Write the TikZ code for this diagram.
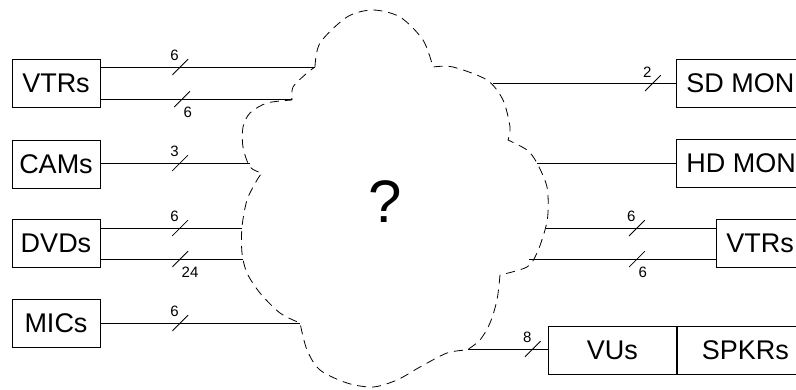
\documentclass[tikz,border=0pt]{standalone}
\usepackage{fontspec}
\setmainfont{Liberation Sans}
\usetikzlibrary{positioning}

\tikzset{
  box/.style={draw, line width=0.9pt, minimum height=48pt, inner sep=0pt, font=\fontsize{27}{30}\selectfont},
  leftbox/.style={box, minimum width=88pt},
  rightbox/.style={box, anchor=west, inner xsep=10pt},
  wire/.style={line width=0.9pt},
  cloudline/.style={line width=0.8pt, dash pattern=on 9pt off 6pt},
  lbl/.style={font=\fontsize{15}{17}\selectfont, inner sep=1pt},
  bus/.style={minimum size=16pt, inner sep=0pt,
    path picture={\draw[line width=0.8pt] (path picture bounding box.south west) -- (path picture bounding box.north east);}},
  busup/.style={bus, label={[lbl, anchor=south east, yshift=-4pt]north:#1}},
  busdown/.style={bus, label={[lbl, anchor=north west, yshift=2pt]south:#1}},
}

\begin{document}
\begin{tikzpicture}[x=1pt, y=-1pt]
  \clip (0,0) rectangle (796,389);

  % sources
  \node[leftbox] (vtrL) at (56,83) {VTRs};
  \node[leftbox] (camL) at (56,164) {CAMs};
  \node[leftbox] (dvdL) at (56,243) {DVDs};
  \node[leftbox] (micL) at (56,323) {MICs};

  % destinations
  \node[rightbox] (sdR) at (676,83) {SD MON};
  \node[rightbox] (hdR) at (676,163) {HD MON};
  \node[rightbox, inner xsep=10pt] (vtrR) at (716,243) {VTRs};
  \node[box, anchor=west, minimum width=128pt] (vuR) at (548,350) {VUs};
  \node[box, anchor=west, minimum width=136pt, right=0pt of vuR] (spkR) {SPKRs};

  % the unknown in the middle
  \node[font=\fontsize{60}{60}\selectfont] (q) at (385,202) {?};
  \draw[cloudline]
    plot[smooth] coordinates {(315,67) (320,43) (347,17) (373,10) (400,17) (423,40) (433,67)}
    -- plot[smooth] coordinates {(433,67) (453,67) (487,80) (503,100) (510,127) (508,140)}
    -- plot[smooth] coordinates {(508,140) (527,150) (537,163) (547,187) (548,213) (545,230) (537,253) (527,267) (500,275)}
    -- plot[smooth] coordinates {(500,275) (497,300) (490,323) (480,340) (467,350)}
    -- plot[smooth] coordinates {(467,350) (447,353) (420,367) (397,380) (373,387) (347,383) (320,370) (307,350) (300,323)}
    -- plot[smooth] coordinates {(300,323) (280,313) (260,293) (247,273) (242,253) (242,227) (247,200) (257,180) (262,173)}
    -- plot[smooth] coordinates {(262,173) (250,167) (243,147) (243,127) (250,113) (267,103) (292,100)}
    -- plot[smooth] coordinates {(292,100) (293,87) (307,73) (315,67)};

  % where the wires meet the cloud
  \coordinate (eVtrA) at (315,67);
  \coordinate (eVtrB) at (292,99);
  \coordinate (eCam) at (250,163);
  \coordinate (eDvdA) at (242,228);
  \coordinate (eDvdB) at (243,259);
  \coordinate (eMic) at (300,323);
  \coordinate (eSd) at (493,83);
  \coordinate (eHd) at (537,163);
  \coordinate (eVtrC) at (546,228);
  \coordinate (eVtrD) at (529,259);
  \coordinate (eVu) at (468,349);

  % wires in
  \draw[wire] (vtrL.east |- eVtrA) -- node[busup=6, pos=0.372] {} (eVtrA);
  \draw[wire] (vtrL.east |- eVtrB) -- node[busdown=6, pos=0.427] {} (eVtrB);
  \draw[wire] (camL.east |- eCam) -- node[busup=3, pos=0.533] {} (eCam);
  \draw[wire] (dvdL.east |- eDvdA) -- node[busup=6, pos=0.563] {} (eDvdA);
  \draw[wire] (dvdL.east |- eDvdB) -- node[busdown=24, pos=0.56] {} (eDvdB);
  \draw[wire] (micL.east |- eMic) -- node[busup=6, pos=0.4] {} (eMic);

  % wires out
  \draw[wire] (eSd) -- node[busup=2, pos=0.874] {} (sdR.west |- eSd);
  \draw[wire] (eHd) -- (hdR.west |- eHd);
  \draw[wire] (eVtrC) -- node[busup=6, pos=0.535] {} (vtrR.west |- eVtrC);
  \draw[wire] (eVtrD) -- node[busdown=6, pos=0.578] {} (vtrR.west |- eVtrD);
  \draw[wire] (eVu) -- node[busup=8, pos=0.81] {} (vuR.west |- eVu);
\end{tikzpicture}
\end{document}
